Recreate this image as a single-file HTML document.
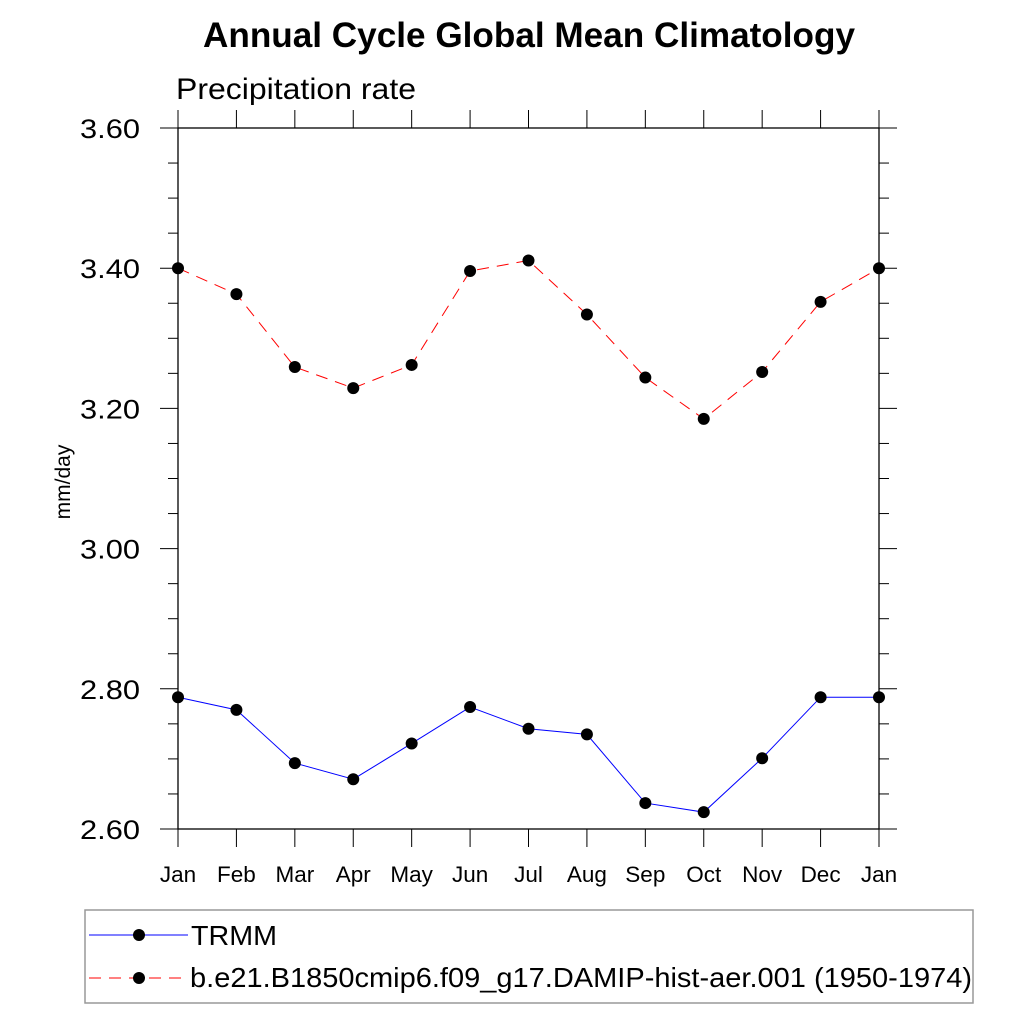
<!DOCTYPE html>
<html><head><meta charset="utf-8"><style>
html,body{margin:0;padding:0;background:#fff;}
svg{display:block;font-family:"Liberation Sans",sans-serif;}
</style></head><body>
<svg id="chart" width="1024" height="1024" viewBox="0 0 1024 1024">
<text x="203" y="47" textLength="652" lengthAdjust="spacingAndGlyphs" font-size="35" font-weight="bold">Annual Cycle Global Mean Climatology</text>
<text x="176" y="99" textLength="240" lengthAdjust="spacingAndGlyphs" font-size="30">Precipitation rate</text>
<text transform="translate(70,482) rotate(-90)" text-anchor="middle" font-size="21">mm/day</text>
<g id="axes"></g>
<g id="series"></g>
<rect x="85" y="910" width="888" height="93" fill="none" stroke="#999" stroke-width="1.5"/>
<g>
<line x1="89" y1="935" x2="188" y2="935" stroke="#00f" stroke-width="1"/>
<circle cx="139" cy="935" r="6" fill="#000"/>
<text x="191" y="945" textLength="86" lengthAdjust="spacingAndGlyphs" font-size="28">TRMM</text>
</g>
<g>
<line x1="89" y1="978" x2="188" y2="978" stroke="#f00" stroke-width="1" stroke-dasharray="12,8"/>
<circle cx="139" cy="978" r="6" fill="#000"/>
<text x="190" y="987" textLength="782" lengthAdjust="spacingAndGlyphs" font-size="28">b.e21.B1850cmip6.f09_g17.DAMIP-hist-aer.001 (1950-1974)</text>
</g>
</svg>
<script>
const months = ["Jan","Feb","Mar","Apr","May","Jun","Jul","Aug","Sep","Oct","Nov","Dec","Jan"];
const trmm = [2.788,2.770,2.694,2.671,2.722,2.774,2.743,2.735,2.637,2.624,2.701,2.788,2.788];
const model = [3.400,3.363,3.259,3.229,3.262,3.396,3.411,3.334,3.244,3.185,3.252,3.352,3.400];
const yTicks = [2.60,2.80,3.00,3.20,3.40,3.60];
const yMin = 2.6, yMax = 3.6;
const L=178,R=879,T=128,B=829;
const NS="http://www.w3.org/2000/svg";
const xs = i => L + (R-L)*i/(months.length-1);
const ys = v => B - (v-yMin)/(yMax-yMin)*(B-T);
function mk(tag, attrs, parent){const e=document.createElementNS(NS,tag);for(const k in attrs)e.setAttribute(k,attrs[k]);parent.appendChild(e);return e;}
const ax=document.getElementById('axes');
const frame=mk('rect',{x:L,y:T,width:R-L,height:B-T,fill:'none',stroke:'#000','stroke-width':1.3},ax);


months.forEach((m,i)=>{
  const x=xs(i);
  mk('line',{x1:x,y1:T-18,x2:x,y2:T,stroke:'#000','stroke-width':1},ax);
  mk('line',{x1:x,y1:B,x2:x,y2:B+18,stroke:'#000','stroke-width':1},ax);
  const t=mk('text',{x:x,y:882,'text-anchor':'middle','font-size':22.5},ax);
  t.textContent=m;
  
  
});
for(let v=yMin; v<=yMax+1e-9; v+=0.05){
  const y=ys(v); const major=Math.abs(Math.round(v*100)%20)<1e-6;
  const len=major?18:10;
  mk('line',{x1:L-len,y1:y,x2:L,y2:y,stroke:'#000','stroke-width':1},ax);
  mk('line',{x1:R,y1:y,x2:R+len,y2:y,stroke:'#000','stroke-width':1},ax);
}
yTicks.forEach(v=>{
  const t=mk('text',{x:80,y:ys(v)+10,'font-size':27,textLength:60,lengthAdjust:'spacingAndGlyphs'},ax);
  t.textContent=v.toFixed(2);
  
  
});
const sg=document.getElementById('series');
function draw(vals,color,dash,name){
  const g=mk('g',{},sg);
  
  
  const pts=vals.map((v,i)=>xs(i)+','+ys(v)).join(' ');
  const a={points:pts,fill:'none',stroke:color,'stroke-width':1};
  if(dash)a['stroke-dasharray']=dash;
  mk('polyline',a,g);
  vals.forEach((v,i)=>{
    const c=mk('circle',{cx:xs(i),cy:ys(v),r:6,fill:'#000'},g);
    
    
  });
}
draw(trmm,'#00f',null,'series-trmm');
draw(model,'#f00','12,8','series-model');
</script>
</body></html>
